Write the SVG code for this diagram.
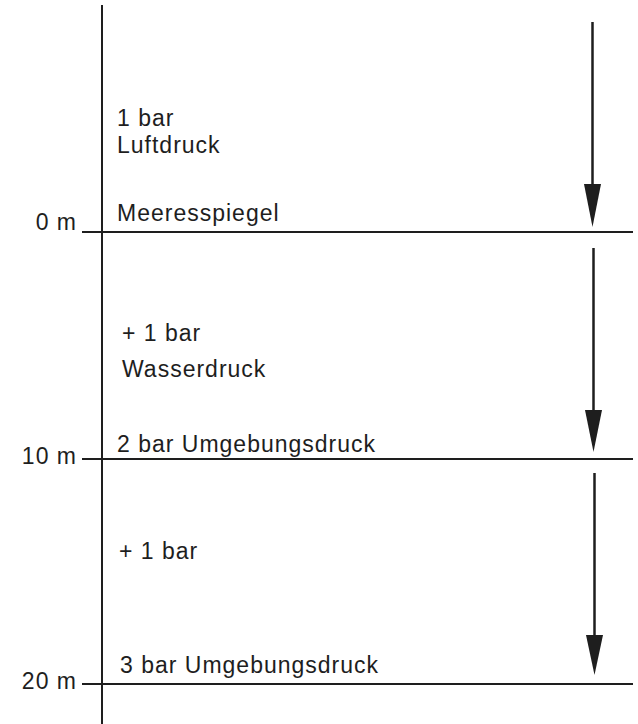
<svg xmlns="http://www.w3.org/2000/svg" width="638" height="724" viewBox="0 0 638 724">
<style>
.ln{stroke:#1e1e1e;stroke-width:2;fill:none}
.sh{stroke:#1e1e1e;stroke-width:2.5;fill:none}
.hd{fill:#1e1e1e;stroke:none}
text{font-family:"Liberation Sans",Arial,sans-serif;font-size:23px;fill:#1e1e1e;letter-spacing:1px}
.r{text-anchor:end}
</style>
<rect width="638" height="724" fill="#fff"/>
<g id="axis">
<line class="ln" x1="102" y1="5" x2="102" y2="724"/>
</g>
<g id="level-0m">
<line class="ln" x1="82" y1="232" x2="633" y2="232"/>
<text class="r" x="77" y="230">0 m</text>
<text x="117" y="221">Meeresspiegel</text>
</g>
<g id="level-10m">
<line class="ln" x1="82" y1="459" x2="633" y2="459"/>
<text class="r" x="77" y="464">10 m</text>
<text x="117" y="452">2 bar Umgebungsdruck</text>
</g>
<g id="level-20m">
<line class="ln" x1="82" y1="684" x2="633" y2="684"/>
<text class="r" x="77" y="689">20 m</text>
<text x="120" y="673">3 bar Umgebungsdruck</text>
</g>
<g id="air">
<text x="117" y="126">1 bar</text>
<text x="117" y="153">Luftdruck</text>
</g>
<g id="water1">
<text x="122" y="341">+ 1 bar</text>
<text x="122" y="377">Wasserdruck</text>
</g>
<g id="water2">
<text x="119" y="559">+ 1 bar</text>
</g>
<g id="connectors">
<line class="sh" x1="592.5" y1="22" x2="592.5" y2="190"/>
<polygon class="hd" points="584,184 601,184 592.5,227"/>
<line class="sh" x1="593.5" y1="248" x2="593.5" y2="415"/>
<polygon class="hd" points="585,410 602,410 593.5,452"/>
<line class="sh" x1="594.5" y1="473" x2="594.5" y2="640"/>
<polygon class="hd" points="586,635 603,635 594.5,675"/>
</g>
</svg>
